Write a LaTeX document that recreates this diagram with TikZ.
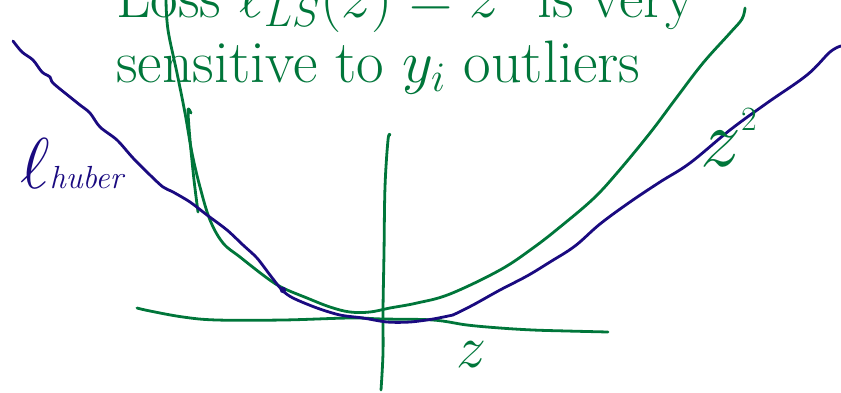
\documentclass[tikz,border=0pt]{standalone}
\usepackage{fix-cm}
\definecolor{hgreen}{RGB}{0,118,58}
\definecolor{hblue}{RGB}{26,10,128}
\tikzset{
  gstroke/.style={draw=hgreen, line width=2.8pt, line cap=round, line join=round},
  bstroke/.style={draw=hblue, line width=2.8pt, line cap=round, line join=round},
  bigtext/.style={anchor=base west, inner sep=0pt, text=hgreen, font=\fontsize{60}{72}\selectfont}
}
\begin{document}
\begin{tikzpicture}[x=1pt,y=-1pt]
\useasboundingbox (0,0) rectangle (841,392);
% title text
\node[bigtext] (line1) at (116,17) {Loss $\ell_{LS}(z) = z^2$ is very};
\node[bigtext] (line2) at (116,82) {sensitive to $y_i$ outliers};
% axes
\draw[gstroke] plot[smooth, tension=0.6] coordinates {(137,308) (150,311) (183,317) (217,320) (283,320) (350,318) (383,319) (433,320) (467,325) (500,328) (533,330) (567,331) (608,332)};
\draw[gstroke] plot[smooth, tension=0.6] coordinates {(390,135) (388,140) (385,187) (384,253) (383,310) (383,353) (381,390)};
% short green stroke
\draw[gstroke] plot[smooth, tension=0.5] coordinates {(191,113) (188,110) (190,140) (194,180) (198,212)};
% z^2 parabola
\draw[gstroke] plot[smooth, tension=0.6] coordinates {(166,0) (168,30) (177,73) (185,113) (192,153) (200,187) (210,220) (223,243) (240,257) (267,278) (283,288) (307,298) (330,307) (350,312) (370,312) (390,308) (417,303) (450,294) (500,270) (533,248) (560,227) (593,199) (617,173) (650,133) (677,97) (703,63) (730,33) (742,19) (745,8)};
% huber curve
\draw[bstroke] plot[smooth, tension=0.5] coordinates {(13,41) (22,52) (33,60) (42,72) (50,77) (53,83) (70,97) (80,105) (90,113) (100,127) (117,140) (133,158) (150,175) (163,187) (173,192) (190,202) (207,215) (227,230) (243,245) (257,258) (270,275) (282,290) (293,298) (317,308) (340,315) (363,318) (387,322) (410,322) (433,319) (453,315)};
\draw[bstroke] plot[smooth, tension=0.6] coordinates {(453,315) (473,305) (500,290) (527,276) (550,262) (575,246) (600,224) (630,202) (660,182) (690,163) (730,130) (767,103) (807,75) (830,52) (841,46)};
\fill[hblue] (283,290) circle (3.2pt);
% handwritten labels
\node[anchor=base west, inner sep=0pt, text=hblue] (lhuber) at (20,188) {\fontsize{72}{72}\selectfont$\ell$\fontsize{32}{32}\selectfont\itshape huber};
\node[anchor=base west, inner sep=0pt, text=hgreen] (zsq) at (700,166) {\fontsize{82}{82}\selectfont$z$\raisebox{36pt}{\fontsize{34}{34}\selectfont 2}};
\node[anchor=base west, inner sep=0pt, text=hgreen] (zlab) at (456,367) {\fontsize{60}{60}\selectfont$z$};
\end{tikzpicture}
\end{document}
